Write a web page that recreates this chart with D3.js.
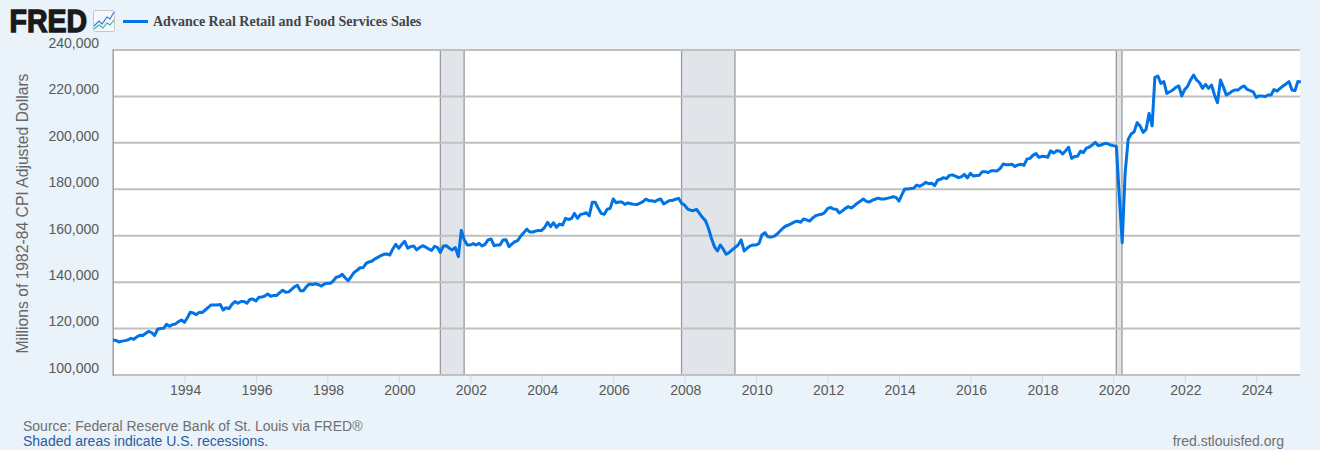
<!DOCTYPE html>
<html>
<head>
<meta charset="utf-8">
<script src="https://cdn.jsdelivr.net/npm/d3@7/dist/d3.min.js"></script>
<style>
html,body{margin:0;padding:0;background:#eaf2fa;overflow:hidden}
svg{display:block}
text{font-family:"Liberation Sans",Arial,sans-serif}
</style>
</head>
<body>
<svg id="chart" width="1320" height="450"></svg>
<script>
const startMonth = "1992-01-01";
const y1992 = [115.1,114.9,114.2,114.6,114.8,115.1,115.8,115.4,116.4,117.1,117.0,118.0];
const y1993 = [118.8,118.2,117.0,119.7,120.0,120.1,121.8,121.0,121.7,122.0,123.0,123.7];
const y1994 = [122.7,124.8,127.0,126.7,126.0,127.0,126.9,128.0,129.1,130.2,130.2,130.2];
const y1995 = [130.4,128.0,129.0,128.6,130.4,131.6,130.9,131.7,131.7,130.9,132.6,132.7];
const y1996 = [131.9,133.5,133.6,134.0,134.9,133.9,134.3,134.3,135.5,136.5,135.6,135.8];
const y1997 = [136.9,138.1,138.6,136.3,136.3,138.1,139.2,139.0,139.3,138.9,138.3,139.2];
const y1998 = [139.5,139.5,140.5,142.1,142.4,143.4,141.9,140.6,142.4,144.2,145.1,146.2];
const y1999 = [146.2,148.1,148.7,149.0,150.0,150.7,151.4,152.0,152.1,151.7,154.3,156.3];
const y2000 = [154.6,156.3,157.6,154.6,155.3,155.6,153.9,154.9,155.7,155.1,154.3,153.7];
const y2001 = [155.4,154.9,152.8,155.6,155.7,154.6,153.9,154.9,151.0,162.3,158.2,156.0];
const y2002 = [156.0,156.6,156.0,156.7,155.6,156.3,158.2,158.6,155.7,156.0,156.0,158.2];
const y2003 = [158.3,155.3,156.4,157.4,157.9,159.9,161.3,162.8,161.6,161.6,162.0,162.3];
const y2004 = [162.3,163.6,165.8,163.9,165.6,163.6,165.0,164.6,167.5,167.0,167.4,169.6];
const y2005 = [167.5,169.2,169.4,169.9,168.6,174.4,174.4,171.8,169.6,169.2,171.4,171.8];
const y2006 = [175.8,174.2,174.5,174.5,173.5,174.1,173.8,173.5,173.4,174.0,174.7,175.8];
const y2007 = [175.1,175.1,174.7,175.4,175.8,173.7,174.4,175.2,175.2,175.7,176.1,174.0];
const y2008 = [173.2,171.5,171.0,170.8,171.4,169.6,167.9,166.5,163.2,158.9,155.3,153.4];
const y2009 = [156.0,154.1,152.0,152.8,153.9,155.0,156.0,158.2,153.4,154.6,155.6,156.0];
const y2010 = [156.0,156.7,160.3,161.3,159.6,159.4,159.7,160.6,161.9,163.2,164.2,164.6];
const y2011 = [165.3,166.0,166.3,165.8,167.2,166.8,166.3,167.6,168.6,169.0,169.2,169.9];
const y2012 = [171.7,172.2,171.5,171.4,169.8,170.7,171.8,172.5,171.9,172.9,174.0,174.8];
const y2013 = [175.8,174.8,174.5,175.2,175.7,176.2,175.8,175.8,176.1,176.4,176.8,176.5];
const y2014 = [174.9,177.8,180.1,180.1,180.3,180.4,181.8,181.3,182.0,183.0,182.4,182.6];
const y2015 = [181.6,184.0,184.3,185.0,184.6,186.0,186.2,185.7,185.0,185.4,186.4,184.9];
const y2016 = [186.9,185.7,185.9,186.0,187.6,187.6,187.2,188.0,188.0,187.9,189.0,190.9];
const y2017 = [190.6,190.6,190.8,189.8,190.5,190.8,190.3,193.0,193.3,194.6,195.4,193.8];
const y2018 = [194.2,194.1,193.8,196.6,195.6,196.6,196.5,195.2,196.6,198.1,193.3,194.1];
const y2019 = [194.2,196.5,195.8,197.7,198.2,199.1,200.2,198.8,199.1,199.7,199.7,199.1];
const y2020 = [198.8,198.5,178.0,157.0,187.0,201.5,203.8,204.8,208.7,207.3,204.5,205.8];
const y2021 = [212.7,207.3,228.2,228.8,225.6,226.4,221.3,222.0,222.8,223.9,224.5,220.2];
const y2022 = [223.0,224.5,227.1,229.2,227.1,225.9,223.5,225.2,223.5,224.9,220.6,217.3];
const y2023 = [227.1,223.9,220.6,221.3,222.3,222.8,222.8,223.9,224.5,223.0,222.5,222.0];
const y2024 = [219.6,220.2,220.2,219.9,220.6,220.6,223.0,222.3,223.5,224.5,225.4,226.4];
const y2025 = [222.8,222.5,226.4,226.2];
const salesThousandsOfMillions = [].concat(y1992,y1993,y1994,y1995,y1996,y1997,y1998,y1999,y2000,y2001,y2002,y2003,y2004,y2005,y2006,y2007,y2008,y2009,y2010,y2011,y2012,y2013,y2014,y2015,y2016,y2017,y2018,y2019,y2020,y2021,y2022,y2023,y2024,y2025);

const recessions = [["2001-03-01","2001-11-01"],["2007-12-01","2009-06-01"],["2020-02-01","2020-04-01"]];
const yTicks = [100000,120000,140000,160000,180000,200000,220000,240000];
const xTickYears = [1994,1996,1998,2000,2002,2004,2006,2008,2010,2012,2014,2016,2018,2020,2022,2024];
const seriesName = "Advance Real Retail and Food Services Sales";
const yTitle = "Millions of 1982-84 CPI Adjusted Dollars";

const svg = d3.select("#chart");
const L = 113, R = 1300, T = 50, B = 375;
const t0 = new Date(startMonth + "T00:00:00Z");
const data = salesThousandsOfMillions.map((v,i)=>({date:d3.utcMonth.offset(t0,i),value:v*1000}));
const x = d3.scaleUtc().domain([t0,data[data.length-1].date]).range([L,R+0.8]);
const y = d3.scaleLinear().domain([100000,240000]).range([B,T]);

svg.append("rect").attr("x",L).attr("y",T).attr("width",R-L).attr("height",B-T).attr("fill","#fff");

// recessions
svg.append("g").selectAll("rect").data(recessions).join("rect")
  .attr("x",d=>x(new Date(d[0]+"T00:00:00Z")))
  .attr("width",d=>x(new Date(d[1]+"T00:00:00Z"))-x(new Date(d[0]+"T00:00:00Z"))-0.2)
  .attr("y",T).attr("height",B-T)
  .attr("fill","#e1e5ea").attr("stroke","#9a9a9a").attr("stroke-width",1.3);

// grid
svg.append("g").selectAll("line").data(yTicks).join("line")
  .attr("x1",L).attr("x2",R).attr("y1",d=>y(d)).attr("y2",d=>y(d))
  .attr("stroke","#c0c0c0").attr("stroke-width",2);

svg.append("line").attr("x1",L+0.2).attr("x2",L+0.2).attr("y1",T-1).attr("y2",B+1)
  .attr("stroke","#a0a0a0").attr("stroke-width",1.5);

// y axis
const yAxis = svg.append("g").attr("transform",`translate(${L},0)`)
  .call(d3.axisLeft(y).tickValues(yTicks).tickFormat(d3.format(",")).tickSize(0).tickPadding(14));
yAxis.select(".domain").remove();
yAxis.selectAll("text").attr("fill","#595959").style("font-size","14px").attr("dy",null).attr("y",-2.6);

// x axis
const xAxis = svg.append("g").attr("transform",`translate(0,${B})`)
  .call(d3.axisBottom(x).tickValues(xTickYears.map(yr=>new Date(Date.UTC(yr,0,1)))).tickFormat(d3.utcFormat("%Y")).tickSize(8).tickPadding(8));
xAxis.select(".domain").remove();
xAxis.selectAll("line").attr("stroke","#ccd6eb");
xAxis.selectAll("text").attr("fill","#595959").style("font-size","14px").attr("dx",0.6).attr("dy",null).attr("y",20);

// series
svg.append("path").datum(data)
  .attr("fill","none").attr("stroke","#0073e6").attr("stroke-width",3).attr("stroke-linejoin","round")
  .attr("d",d3.line().x(d=>x(d.date)).y(d=>y(d.value)));

// axis title
svg.append("text").attr("transform","translate(27.5,213.5) rotate(-90)").attr("text-anchor","middle")
  .attr("fill","#666").style("font-size","15.7px").text(yTitle);

// logo
svg.append("text").attr("x",9.5).attr("y",32).attr("fill","#1a1a1a").attr("stroke","#1a1a1a").attr("stroke-width",1.3)
  .style("font-size","30.5px").style("font-weight","700").attr("textLength",77.5).attr("lengthAdjust","spacingAndGlyphs").text("FRED");
svg.append("rect").attr("x",93.5).attr("y",10.5).attr("width",21).attr("height",21).attr("rx",1)
  .attr("fill","#f4f8fc").attr("stroke","#c8c8c8");
svg.append("path").attr("d","M94 26L99 21L102 24L107 17L110 19L114 12").attr("fill","none").attr("stroke","#2f7fd6").attr("stroke-width",1.2);
svg.append("path").attr("d","M94 29L99 25L103 28L107 23L110 25L114 20").attr("fill","none").attr("stroke","#3fb59a").attr("stroke-width",1.2);

// legend
svg.append("line").attr("x1",123).attr("x2",148).attr("y1",21.5).attr("y2",21.5).attr("stroke","#0073e6").attr("stroke-width",3);
svg.append("text").attr("x",153).attr("y",25.5).attr("fill","#444")
  .style("font-family","'Liberation Serif',serif").style("font-size","14px").style("font-weight","700").text(seriesName);

// footer
svg.append("text").attr("x",23).attr("y",431).attr("fill","#707070").style("font-size","14px").text("Source: Federal Reserve Bank of St. Louis via FRED®");
svg.append("text").attr("x",23).attr("y",446).attr("fill","#2b5c9e").style("font-size","14px").text("Shaded areas indicate U.S. recessions.");
svg.append("text").attr("x",1284).attr("y",446).attr("text-anchor","end").attr("fill","#707070").style("font-size","14px").text("fred.stlouisfed.org");
</script>
</body>
</html>
